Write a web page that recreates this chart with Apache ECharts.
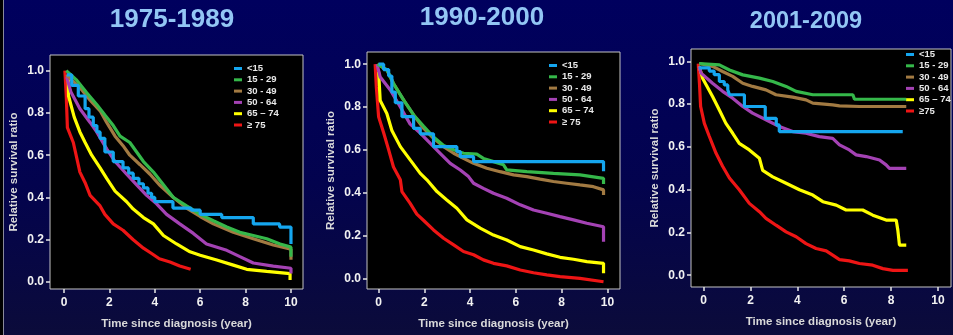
<!DOCTYPE html>
<html>
<head>
<meta charset="utf-8">
<script src="https://cdn.jsdelivr.net/npm/echarts@6/dist/echarts.min.js"></script>
<style>
  html, body { margin: 0; padding: 0; }
  #chart {
    width: 953px; height: 335px;
    background: linear-gradient(to bottom, #00005e 0%, #03034e 55%, #0b0b3a 100%);
  }
</style>
</head>
<body>
<div id="chart"></div>
<script>
// period titles and age groups
var periods = ['1975-1989', '1990-2000', '2001-2009'];
var ageGroups = ['<15', '15 - 29', '30 - 49', '50 - 64', '65 \u2013 74', '\u2265 75'];
var ageGroups3 = ['<15', '15 - 29', '30 - 49', '50 - 64', '65 \u2013 74', '\u226575'];
var ageColors = ['#15a6ef', '#35b84a', '#a27a42', '#a442b4', '#ffff00', '#ee1515'];

var xTicks = [0, 2, 4, 6, 8, 10];
var yTicks = [0, 0.2, 0.4, 0.6, 0.8, 1.0];

// [years since diagnosis, relative survival ratio]
// 1975-1989
var p1Lt15 = [[0.12,0.98],[0.34,0.93],[0.63,0.88],[0.93,0.82],[1.1,0.78],[1.29,0.74],[1.45,0.71],[1.59,0.68],[1.8,0.615],[2.17,0.57],[2.6,0.54],[2.85,0.515],[3.05,0.49],[3.3,0.465],[3.5,0.445],[3.7,0.42],[3.86,0.4],[4.0,0.38],[4.8,0.35],[5.6,0.34],[6.0,0.32],[6.95,0.305],[8.34,0.275],[9.5,0.26],[10.0,0.18]];
var p1Age15 = [[0.1,1.0],[0.56,0.955],[1.0,0.895],[1.44,0.84],[1.8,0.79],[2.17,0.74],[2.47,0.69],[2.9,0.66],[3.2,0.615],[3.5,0.57],[3.94,0.52],[4.38,0.46],[4.82,0.4],[5.4,0.36],[6.0,0.32],[6.58,0.29],[7.17,0.26],[7.75,0.235],[8.34,0.22],[8.93,0.205],[9.52,0.18],[10.0,0.165],[10.0,0.12]];
var p1Age30 = [[0.1,0.98],[0.7,0.92],[1.15,0.86],[1.59,0.81],[1.88,0.755],[2.25,0.69],[2.6,0.645],[2.9,0.6],[3.35,0.555],[3.79,0.51],[4.2,0.46],[4.82,0.4],[5.4,0.35],[6.0,0.31],[6.58,0.275],[7.46,0.235],[8.34,0.205],[9.22,0.175],[10.0,0.155],[10.0,0.105]];
var p1Age50 = [[0.12,0.97],[0.3,0.9],[0.7,0.82],[1.15,0.755],[1.44,0.71],[1.88,0.63],[2.25,0.57],[2.76,0.51],[3.2,0.46],[3.64,0.41],[4.08,0.37],[4.52,0.32],[5.1,0.275],[5.7,0.23],[6.28,0.18],[7.17,0.15],[7.75,0.12],[8.34,0.09],[9.22,0.075],[10.0,0.065],[10.0,0.04]];
var p1Age65 = [[0.19,0.96],[0.2,0.88],[0.45,0.78],[0.7,0.71],[0.93,0.66],[1.22,0.6],[1.59,0.54],[1.88,0.49],[2.25,0.43],[2.76,0.38],[3.05,0.345],[3.5,0.305],[3.94,0.275],[4.38,0.22],[4.96,0.18],[5.55,0.143],[6.0,0.127],[6.73,0.104],[7.46,0.08],[8.05,0.06],[8.93,0.05],[9.96,0.04],[9.96,0.01]];
var p1Age75 = [[0.04,1.0],[0.1,0.88],[0.15,0.73],[0.41,0.66],[0.7,0.52],[0.93,0.47],[1.15,0.41],[1.59,0.36],[1.8,0.32],[2.17,0.275],[2.6,0.245],[3.05,0.2],[3.5,0.16],[3.86,0.135],[4.2,0.11],[4.67,0.095],[5.1,0.076],[5.58,0.06]];

// 1990-2000
var p2Lt15 = [[0,1.0],[0.22,0.975],[0.44,0.945],[0.58,0.87],[0.73,0.82],[1.02,0.755],[1.53,0.7],[1.82,0.675],[2.4,0.615],[3.42,0.592],[3.57,0.568],[4.15,0.545],[9.83,0.5]];
var p2Age15 = [[-0.05,1.0],[0.36,0.974],[0.65,0.91],[1.09,0.833],[1.53,0.763],[1.97,0.71],[2.4,0.66],[2.84,0.62],[3.28,0.6],[3.71,0.584],[4.29,0.58],[4.58,0.56],[5.02,0.545],[5.46,0.53],[5.6,0.506],[6.48,0.498],[7.64,0.49],[8.8,0.483],[9.83,0.467],[9.83,0.44]];
var p2Age30 = [[-0.05,1.0],[0.36,0.974],[0.65,0.91],[1.09,0.833],[1.53,0.763],[1.97,0.7],[2.4,0.654],[2.84,0.615],[3.28,0.584],[3.71,0.56],[4.15,0.537],[4.73,0.514],[5.31,0.498],[5.9,0.483],[6.48,0.475],[7.06,0.463],[7.64,0.452],[8.22,0.444],[8.8,0.436],[9.39,0.428],[9.83,0.413],[9.83,0.389]];
var p2Age50 = [[-0.07,1.0],[0.07,0.94],[0.51,0.88],[0.95,0.8],[1.38,0.72],[1.82,0.678],[2.26,0.63],[2.69,0.584],[3.13,0.537],[3.57,0.506],[3.93,0.475],[4.15,0.444],[4.58,0.42],[5.02,0.397],[5.6,0.374],[6.19,0.343],[6.77,0.319],[7.35,0.304],[7.93,0.288],[8.52,0.273],[9.1,0.257],[9.83,0.241],[9.83,0.171]];
var p2Age65 = [[0,0.966],[0.07,0.83],[0.36,0.77],[0.58,0.69],[0.95,0.615],[1.38,0.553],[1.82,0.49],[2.11,0.46],[2.55,0.405],[2.98,0.366],[3.42,0.327],[3.86,0.273],[4.44,0.234],[5.02,0.202],[5.6,0.179],[6.19,0.148],[6.77,0.132],[7.35,0.114],[7.93,0.098],[8.52,0.089],[9.1,0.078],[9.83,0.07],[9.83,0.023]];
var p2Age75 = [[-0.15,1.0],[-0.1,0.895],[0,0.755],[0.22,0.68],[0.44,0.6],[0.65,0.52],[0.95,0.46],[1.02,0.405],[1.38,0.35],[1.67,0.3],[1.97,0.27],[2.4,0.226],[2.84,0.187],[3.28,0.156],[3.71,0.125],[4.15,0.11],[4.58,0.086],[5.02,0.07],[5.6,0.058],[6.19,0.039],[6.77,0.026],[7.35,0.016],[7.93,0.008],[8.8,0.0],[9.83,-0.016]];

// 2001-2009
var p3Lt15 = [[-0.19,0.97],[0.24,0.955],[0.45,0.938],[0.67,0.906],[0.88,0.89],[1.03,0.867],[1.1,0.844],[1.74,0.789],[2.63,0.734],[3.1,0.703],[3.23,0.672],[8.5,0.672]];
var p3Age15 = [[-0.19,0.99],[0.67,0.984],[1.1,0.96],[1.67,0.937],[2.38,0.922],[2.95,0.906],[3.52,0.883],[3.95,0.86],[4.66,0.844],[6.37,0.844],[6.44,0.823],[8.65,0.823]];
var p3Age30 = [[-0.19,0.99],[0.38,0.977],[0.81,0.953],[1.24,0.93],[1.67,0.898],[2.09,0.883],[2.66,0.867],[3.09,0.844],[3.8,0.833],[4.37,0.82],[4.66,0.805],[5.51,0.797],[5.8,0.792],[6.65,0.789],[8.65,0.789]];
var p3Age50 = [[-0.19,0.977],[-0.11,0.945],[0.38,0.898],[0.81,0.86],[1.24,0.828],[1.67,0.789],[2.09,0.758],[2.66,0.727],[3.23,0.695],[3.8,0.672],[4.37,0.664],[4.94,0.648],[5.51,0.64],[5.8,0.61],[6.22,0.586],[6.51,0.563],[6.94,0.555],[7.51,0.539],[7.79,0.516],[7.93,0.5],[8.65,0.5]];
var p3Age65 = [[-0.19,0.977],[-0.04,0.92],[0.38,0.836],[0.67,0.773],[0.95,0.71],[1.24,0.664],[1.52,0.617],[1.95,0.586],[2.38,0.547],[2.52,0.49],[2.95,0.46],[3.52,0.43],[4.09,0.4],[4.66,0.375],[5.09,0.344],[5.66,0.328],[6.08,0.305],[6.79,0.305],[7.22,0.281],[7.79,0.258],[8.22,0.258],[8.29,0.211],[8.36,0.141],[8.65,0.141]];
var p3Age75 = [[-0.23,0.99],[-0.18,0.9],[-0.13,0.79],[0.03,0.71],[0.24,0.65],[0.53,0.57],[0.81,0.51],[1.1,0.455],[1.52,0.4],[1.95,0.336],[2.38,0.297],[2.66,0.266],[3.09,0.234],[3.52,0.203],[3.95,0.18],[4.37,0.148],[4.8,0.125],[5.23,0.114],[5.51,0.094],[5.8,0.073],[6.22,0.067],[6.65,0.055],[7.22,0.047],[7.65,0.031],[8.08,0.023],[8.72,0.023]];

var panelData = [
    [p1Lt15, p1Age15, p1Age30, p1Age50, p1Age65, p1Age75],
    [p2Lt15, p2Age15, p2Age30, p2Age50, p2Age65, p2Age75],
    [p3Lt15, p3Age15, p3Age30, p3Age50, p3Age65, p3Age75]
];

var font = 'Liberation Sans, Arial, sans-serif';
var myChart = echarts.init(document.getElementById('chart'), null, {renderer: 'canvas'});

// layout of each panel (px) and the value range its frame covers
var panels = [
    {grid: {left: 50, top: 55, width: 253, height: 238}, x: [-0.617, 10.53], y: [-0.033, 1.074],
     title: {left: 172, top: 7, size: 26}, legend: {left: 234, top: 63}, names: ageGroups},
    {grid: {left: 367, top: 52, width: 253, height: 237}, x: [-0.507, 10.55], y: [-0.05, 1.057],
     title: {left: 482, top: 5, size: 26}, legend: {left: 549, top: 60}, names: ageGroups},
    {grid: {left: 691, top: 49, width: 260, height: 238}, x: [-0.54, 10.56], y: [-0.055, 1.058],
     title: {left: 806, top: 10, size: 23.5}, legend: {left: 906, top: 49}, names: ageGroups3}
];

var grids = [], xAxes = [], yAxes = [], titles = [], legends = [], series = [];
panels.forEach(function (p, i) {
    titles.push({
        text: periods[i], left: p.title.left, top: p.title.top, textAlign: 'center', padding: 0,
        textStyle: {color: '#93c6f4', fontSize: p.title.size, fontWeight: 'bold', fontFamily: font}
    });
    grids.push(Object.assign({
        show: true, backgroundColor: '#000', borderColor: '#c4c4c4', borderWidth: 1
    }, p.grid));
    xAxes.push({
        type: 'value', gridIndex: i, min: p.x[0], max: p.x[1],
        name: 'Time since diagnosis (year)', nameLocation: 'middle', nameGap: 29,
        nameTextStyle: {color: '#d9d9d9', fontSize: 11.5, fontWeight: 'bold', fontFamily: font},
        axisLine: {show: false, onZero: false},
        axisTick: {show: true, length: 4, customValues: xTicks, lineStyle: {color: '#e6e6e6', width: 1.5}},
        axisLabel: {customValues: xTicks, color: '#f2f2f2', fontSize: 12, fontWeight: 'bold', margin: 8, fontFamily: font},
        splitLine: {show: false}
    });
    yAxes.push({
        type: 'value', gridIndex: i, min: p.y[0], max: p.y[1],
        name: 'Relative survival ratio', nameLocation: 'middle', nameGap: 30,
        nameTextStyle: {color: '#d9d9d9', fontSize: 11.5, fontWeight: 'bold', fontFamily: font},
        axisLine: {show: false, onZero: false},
        axisTick: {show: true, length: 4, customValues: yTicks, lineStyle: {color: '#e6e6e6', width: 1.5}},
        axisLabel: {customValues: yTicks, color: '#f2f2f2', fontSize: 12, fontWeight: 'bold', margin: 6, fontFamily: font,
            formatter: function (v) { return v.toFixed(1); }},
        splitLine: {show: false}
    });
    legends.push({
        orient: 'vertical', left: p.legend.left, top: p.legend.top, padding: 0,
        itemWidth: 8, itemHeight: 3, itemGap: 0.3, icon: 'rect',
        data: p.names,
        textStyle: {color: '#e8e8e8', fontSize: 9.5, fontWeight: 'bold', lineHeight: 11, fontFamily: font}
    });
    panelData[i].forEach(function (d, k) {
        series.push({
            name: p.names[k], type: 'line', xAxisIndex: i, yAxisIndex: i,
            data: d, showSymbol: false, symbol: 'none', step: k === 0 ? 'end' : false,
            color: ageColors[k], lineStyle: {width: 3.2, color: ageColors[k]},
            z: 10 - k
        });
    });
});

myChart.setOption({
    animation: false,
    textStyle: {fontFamily: font},
    title: titles,
    grid: grids,
    xAxis: xAxes,
    yAxis: yAxes,
    legend: legends,
    series: series,
    graphic: [
        {type: 'rect', shape: {x: 0, y: 0, width: 3, height: 335}, style: {fill: '#000'}},
        {type: 'line', shape: {x1: 3.5, y1: 0, x2: 3.5, y2: 335}, style: {stroke: '#8a8a9a', lineWidth: 1}}
    ]
});
</script>
</body>
</html>
